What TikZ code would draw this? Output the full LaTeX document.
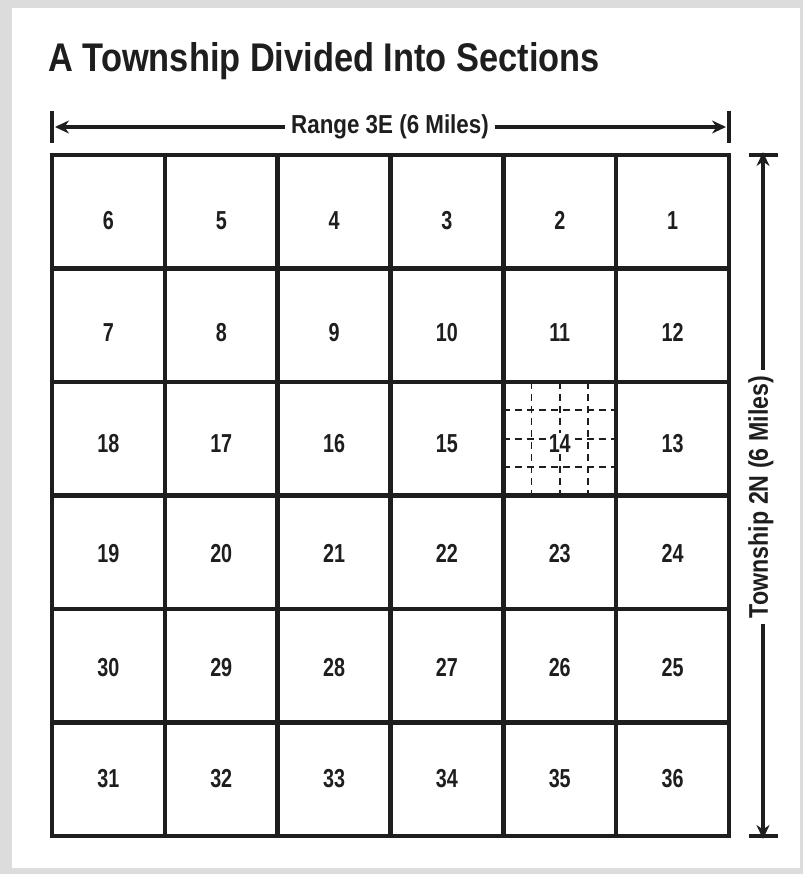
\documentclass[tikz,border=0pt]{standalone}
\usepackage{fontspec}
\setmainfont{Liberation Sans}
\newfontfamily\condfont[FakeStretch=0.86]{Liberation Sans}
\newfontfamily\numfont[FakeStretch=0.76]{Liberation Sans}
\usetikzlibrary{arrows.meta,calc}
\definecolor{ink}{HTML}{1E1E1E}
\definecolor{frame}{HTML}{DCDCDC}
\tikzset{
  cell/.style={draw=ink, line width=4.4pt, minimum width=112.83pt, minimum height=113.5pt, inner sep=0pt, outer sep=0pt},
  num/.style={font=\numfont\bfseries\fontsize{26}{26}\selectfont, text=ink, inner sep=1pt, text height=18.8pt, text depth=0pt},
  dim/.style={font=\condfont\bfseries\fontsize{26}{26}\selectfont, text=ink, inner sep=6pt},
  dimline/.style={draw=ink, line width=3.4pt, -{Stealth[length=14pt,width=13pt]}},
  bar/.style={draw=ink, line width=3.6pt},
  quarter/.style={draw=ink, line width=1.8pt, dash pattern=on 7pt off 5pt}
}
\begin{document}
\begin{tikzpicture}[x=1pt,y=-1pt]
\fill[frame] (0,0) rectangle (803,874);
\fill[white] (12,8) rectangle (800,868);
\useasboundingbox (0,0) rectangle (803,874);
% title
\node[anchor=base west, inner sep=0pt, font=\condfont\bfseries\fontsize{40}{40}\selectfont, text=ink] (title) at (48,72) {A Township Divided Into Sections};
% grid
\foreach \rr/\row in {0/{6,5,4,3,2,1},1/{7,8,9,10,11,12},2/{18,17,16,15,14,13},3/{19,20,21,22,23,24},4/{30,29,28,27,26,25},5/{31,32,33,34,35,36}}{
  \foreach \n [count=\c from 0] in \row {
    \node[cell] (s\n) at ({52+(\c+0.5)*112.83},{155+(\rr+0.5)*113.5}) {};
  }
}
% quarter-section dashes in 14
\begin{scope}
\clip (s14.north west) rectangle (s14.south east);
\foreach \f in {0.25,0.5,0.75}{
  \draw[quarter] ($(s14.north west)!\f!(s14.north east)$) -- ($(s14.south west)!\f!(s14.south east)$);
  \draw[quarter] ($(s14.north west)!\f!(s14.south west)$) -- ($(s14.north east)!\f!(s14.south east)$);
}
\end{scope}
% numbers
\foreach \yy/\row in {220/{6,5,4,3,2,1},332/{7,8,9,10,11,12},443/{18,17,16,15,14,13},553/{19,20,21,22,23,24},667/{30,29,28,27,26,25},778/{31,32,33,34,35,36}}{
  \foreach \n [count=\c from 0] in \row {
    \node[num, fill=white] (n\n) at (s\n.center |- 0,\yy) {\n};
  }
}
% range dimension
\coordinate (rl) at (52,127);
\coordinate (rr) at (729,127);
\draw[bar] (52,111) -- (52,143);
\draw[bar] (729,111) -- (729,143);
\node[dim] (range) at (390,127) {Range 3E (6 Miles)};
\draw[dimline] (range.west) -- ([xshift=3pt]rl);
\draw[dimline] (range.east) -- ([xshift=-3pt]rr);
% township dimension
\coordinate (tt) at (763,155);
\coordinate (tb) at (763,836);
\draw[bar] (749,155) -- (778,155);
\draw[bar] (749,836) -- (778,836);
\node[dim, rotate=90, font=\condfont\bfseries\fontsize{27}{27}\selectfont] (town) at (761,497) {Township 2N (6 Miles)};
\draw[dimline] (town.east -| tt) -- ([yshift=3pt]tt);
\draw[dimline] (town.west -| tb) -- ([yshift=-3pt]tb);
\end{tikzpicture}
\end{document}
